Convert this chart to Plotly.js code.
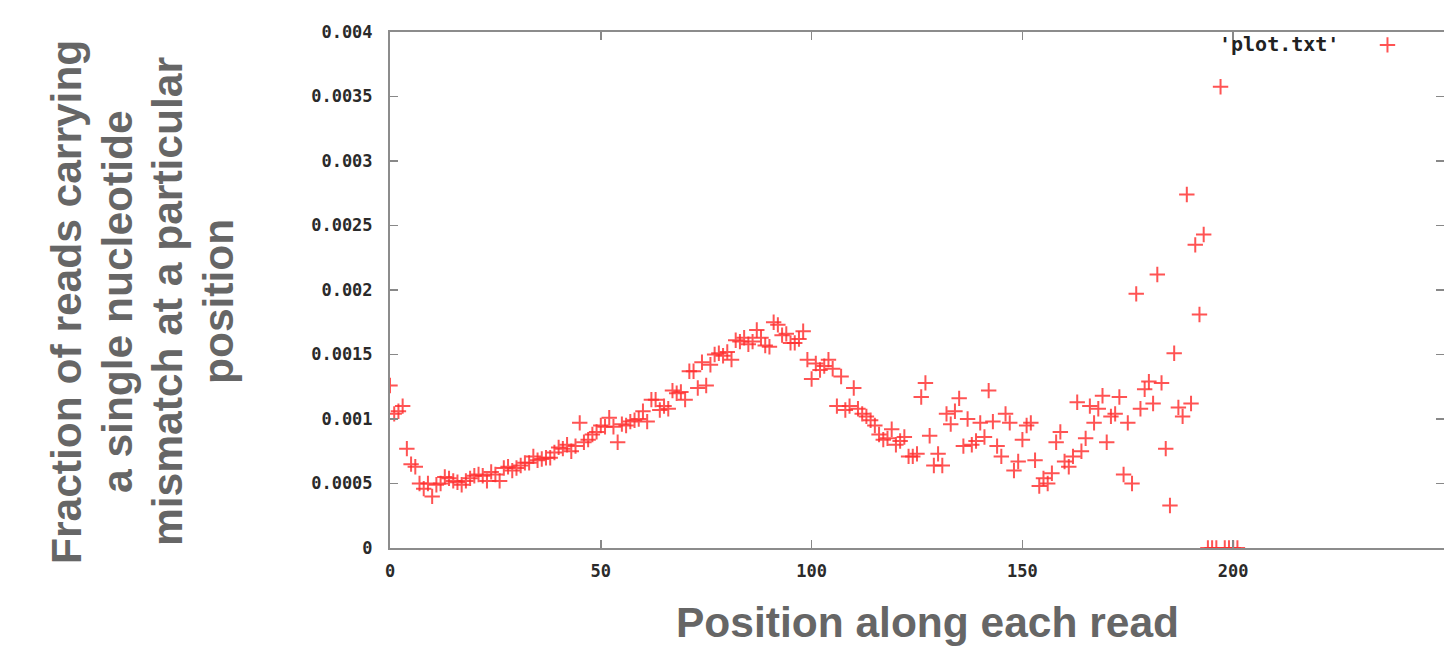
<!DOCTYPE html>
<html>
<head>
<meta charset="utf-8">
<script src="https://cdn.plot.ly/plotly-3.0.1.min.js"></script>
<style>
html, body { margin: 0; padding: 0; background: #ffffff; }
#chart { width: 1444px; height: 650px; }
</style>
</head>
<body>
<div id="chart"></div>
<script>
// Positions along the read (x) and mismatch fraction at each position (y)
var positions = [
  0,1,2,3,4,5,6,7,8,9,10,11,12,13,14,15,16,17,18,19,
  20,21,22,23,24,25,26,27,28,29,30,31,32,33,34,35,36,37,38,39,
  40,41,42,43,44,45,46,47,48,49,50,51,52,53,54,55,56,57,58,59,
  60,61,62,63,64,65,66,67,68,69,70,71,72,73,74,75,76,77,78,79,
  80,81,82,83,84,85,86,87,88,89,90,91,92,93,94,95,96,97,98,99,
  100,101,102,103,104,105,106,107,108,109,110,111,112,113,114,115,116,117,118,119,
  120,121,122,123,124,125,126,127,128,129,130,131,132,133,134,135,136,137,138,139,
  140,141,142,143,144,145,146,147,148,149,150,151,152,153,154,155,156,157,158,159,
  160,161,162,163,164,165,166,167,168,169,170,171,172,173,174,175,176,177,178,179,
  180,181,182,183,184,185,186,187,188,189,190,191,192,193,194,195,196,197,198,199,
  200,201
];
var mismatchFraction = [
  0.00126,0.00104,0.00106,0.00110,0.00077,0.00065,0.00063,0.00050,0.00046,0.00050,
  0.00040,0.00049,0.00050,0.00055,0.00054,0.00052,0.00051,0.00049,0.00052,0.00054,
  0.00056,0.00057,0.00056,0.00052,0.00059,0.00057,0.00052,0.00062,0.00063,0.00060,
  0.00062,0.00064,0.00066,0.00066,0.00071,0.00068,0.00069,0.00070,0.00070,0.00074,
  0.00078,0.00077,0.00080,0.00075,0.00079,0.00097,0.00082,0.00084,0.00088,0.00090,
  0.00095,0.00094,0.00101,0.00094,0.00082,0.00096,0.00095,0.00098,0.00099,0.00100,
  0.00106,0.00098,0.00115,0.00115,0.00107,0.00110,0.00108,0.00122,0.00120,0.00121,
  0.00115,0.00137,0.00137,0.00124,0.00144,0.00126,0.00142,0.00150,0.00151,0.00149,
  0.00152,0.00146,0.00161,0.00160,0.00163,0.00158,0.00160,0.00169,0.00163,0.00157,
  0.00156,0.00175,0.00173,0.00165,0.00166,0.00159,0.00159,0.00162,0.00168,0.00146,
  0.00131,0.00143,0.00138,0.00141,0.00146,0.00139,0.00110,0.00133,0.00107,0.00110,
  0.00124,0.00108,0.00104,0.00102,0.00099,0.00095,0.00088,0.00084,0.00085,0.00092,
  0.00080,0.00083,0.00086,0.00071,0.00071,0.00073,0.00117,0.00128,0.00087,0.00064,
  0.00073,0.00064,0.00104,0.00096,0.00106,0.00116,0.00079,0.00100,0.00080,0.00083,
  0.00097,0.00086,0.00122,0.00098,0.00079,0.00071,0.00104,0.00097,0.00060,0.00067,
  0.00084,0.00095,0.00097,0.00068,0.00048,0.00054,0.00050,0.00058,0.00082,0.00090,
  0.00067,0.00063,0.00071,0.00113,0.00075,0.00085,0.00110,0.00097,0.00108,0.00118,
  0.00082,0.00102,0.00104,0.00117,0.00057,0.00097,0.00050,0.00197,0.00108,0.00123,
  0.00129,0.00112,0.00212,0.00128,0.00077,0.00033,0.00151,0.00109,0.00102,0.00274,
  0.00112,0.00235,0.00181,0.00243,0,0,0,0.003576,0,0,
  0,0
];
var xTickVals = [0, 50, 100, 150, 200, 250];
var xTickText = ["0", "50", "100", "150", "200", "250"];
var yTickVals = [0, 0.0005, 0.001, 0.0015, 0.002, 0.0025, 0.003, 0.0035, 0.004];
var yTickText = ["0", "0.0005", "0.001", "0.0015", "0.002", "0.0025", "0.003", "0.0035", "0.004"];
var seriesLabel = "'plot.txt'";
var xTitle = "Position along each read";
var yTitleLines = ["Fraction of reads carrying", "a single nucleotide", "mismatch at a particular", "position"];

var trace = {
  x: positions,
  y: mismatchFraction,
  type: 'scatter',
  mode: 'markers',
  name: ' ',
  showlegend: true,
  marker: {
    symbol: 'cross-thin',
    size: 11,
    color: 'rgba(255,45,45,0.82)',
    line: { color: 'rgba(255,45,45,0.82)', width: 2 }
  },
  cliponaxis: true,
  hoverinfo: 'x+y'
};

var tickFont = { family: 'DejaVu Sans Mono, monospace', size: 17, color: '#2a2a2a', weight: 'bold' };
var titleFont = { family: 'Liberation Sans, Arial, sans-serif', size: 42.5, color: '#666666', weight: 'bold' };

var plotLeft = 390, plotWidth = 1054, plotBottom = 548, plotHeight = 516;
// y title: one rotated annotation per line (line spacing ~51px as in the reference)
var yTitleCentersPx = [66, 117, 167, 218];
var annotations = yTitleLines.map(function (line, i) {
  return {
    xref: 'paper', yref: 'paper',
    x: (yTitleCentersPx[i] - plotLeft) / plotWidth,
    y: (plotBottom - 302) / plotHeight,
    xanchor: 'center', yanchor: 'middle',
    textangle: -90,
    text: line,
    showarrow: false,
    font: titleFont
  };
});
// x title
annotations.push({
  xref: 'paper', yref: 'paper',
  x: (927 - plotLeft) / plotWidth,
  y: (plotBottom - 622) / plotHeight,
  xanchor: 'center', yanchor: 'middle',
  text: xTitle,
  showarrow: false,
  font: titleFont
});
// legend label (gnuplot puts the label left of the key symbol)
annotations.push({
  xref: 'paper', yref: 'paper',
  x: 0.902, y: (plotBottom - 44) / plotHeight,
  xanchor: 'right', yanchor: 'middle',
  text: seriesLabel,
  showarrow: false,
  font: { family: 'DejaVu Sans Mono, monospace', size: 20, color: '#222', weight: 'bold' }
});

var layout = {
  width: 1444,
  height: 650,
  paper_bgcolor: '#ffffff',
  plot_bgcolor: '#ffffff',
  margin: { l: 390, r: 0, t: 32, b: 102, pad: 0 },
  showlegend: true,
  legend: {
    x: 0.9274, y: 1.004, xanchor: 'left', yanchor: 'top',
    bgcolor: 'rgba(0,0,0,0)', borderwidth: 0,
    font: { family: 'DejaVu Sans Mono, monospace', size: 13, color: '#222', weight: 'bold' }
  },
  xaxis: {
    range: [0, 250],
    tickvals: xTickVals,
    ticktext: xTickText,
    tickfont: tickFont,
    ticks: 'inside',
    ticklen: 8,
    tickwidth: 1.5,
    tickcolor: '#888888',
    ticklabelstandoff: 7,
    showline: true,
    linecolor: '#8c8c8c',
    linewidth: 2,
    mirror: 'ticks',
    showgrid: false,
    zeroline: false,
    automargin: false
  },
  yaxis: {
    range: [0, 0.004],
    tickvals: yTickVals,
    ticktext: yTickText,
    tickfont: tickFont,
    ticks: 'inside',
    ticklen: 8,
    tickwidth: 1.5,
    tickcolor: '#888888',
    ticklabelstandoff: 12,
    showline: true,
    linecolor: '#8c8c8c',
    linewidth: 2,
    mirror: 'ticks',
    showgrid: false,
    zeroline: false,
    automargin: false
  },
  annotations: annotations
};

Plotly.newPlot('chart', [trace], layout, { displayModeBar: false, staticPlot: true });
</script>
</body>
</html>
